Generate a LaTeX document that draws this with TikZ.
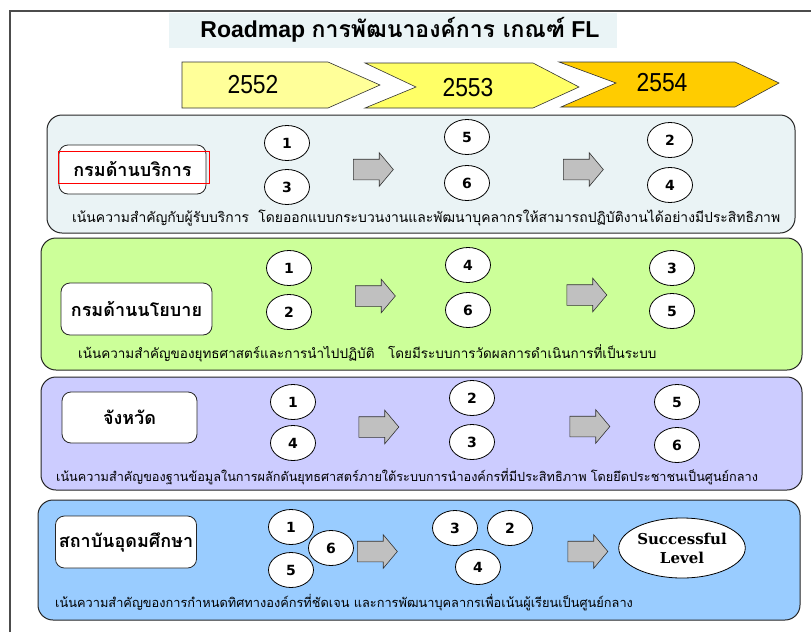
\documentclass[tikz,border=0pt]{standalone}
\usepackage{fontspec}
\setmainfont{Liberation Sans}
\newfontfamily\thaifont[Script=Thai]{Loma}
\newfontfamily\yearfont[FakeStretch=0.88]{Liberation Sans}
\newfontfamily\digitfont{DejaVu Sans}
\newfontfamily\slabfont{DejaVu Serif}
\usetikzlibrary{shapes.geometric,shapes.arrows}

\definecolor{titlebg}{HTML}{EAF4F6}
\definecolor{yearA}{HTML}{FFFF99}
\definecolor{yearB}{HTML}{FFFF66}
\definecolor{yearC}{HTML}{FFCC00}
\definecolor{rowA}{HTML}{EAF3F5}
\definecolor{rowB}{HTML}{CCFF99}
\definecolor{rowC}{HTML}{CCCCFF}
\definecolor{rowD}{HTML}{99CCFF}
\definecolor{stepgray}{HTML}{C0C0C0}

\tikzset{
	panel/.style={draw=black!85,line width=1pt,rounded corners=15pt},
	yearbox/.style={draw=black!80,line width=0.6pt},
	groupbox/.style={draw=black!85,fill=white,line width=0.8pt,rounded corners=9pt,font=\thaifont\bfseries\fontsize{18}{20}\selectfont},
	num/.style={ellipse,draw=black,fill=white,line width=0.8pt,minimum width=45pt,minimum height=35pt,inner sep=0pt,font=\digitfont\bfseries\fontsize{14}{16}\selectfont},
	stepArrow/.style={single arrow,draw=black!80,fill=stepgray,line width=0.6pt,minimum height=40pt,inner xsep=0pt,inner ysep=10pt,single arrow head extend=6.5pt,single arrow tip angle=100},
	note/.style={anchor=west,inner sep=0pt,font=\thaifont\fontsize{13}{15}\selectfont}
}

\begin{document}
\begin{tikzpicture}[x=1pt,y=-1pt]
\useasboundingbox (0,0) rectangle (811,632);
\draw[line width=1.5pt,black!70] (10,632) -- (10,11) -- (811,11);

% title
\node (title)[fill=titlebg,minimum width=448pt,minimum height=35pt,inner sep=0pt] at (393,30.5) {};
\node (titletext) at (400,30) {\fontsize{23}{26}\selectfont\bfseries Roadmap {\thaifont\bfseries การพัฒนาองค์การ เกณฑ์} FL};

% years
\draw[yearbox,fill=yearA] (182,62) -- (328,62) -- (380,85) -- (328,108) -- (182,108) -- cycle;
\draw[yearbox,fill=yearB] (365,63) -- (533,63) -- (579,87) -- (533,108) -- (365,108) -- (416,87) -- cycle;
\draw[yearbox,fill=yearC] (559,62) -- (735,62) -- (779,83) -- (735,107) -- (561,107) -- (616,83) -- cycle;
\node (y2552) at (253,85) {\yearfont\fontsize{26}{28}\selectfont 2552};
\node (y2553) at (468,88) {\yearfont\fontsize{26}{28}\selectfont 2553};
\node (y2554) at (662,83) {\yearfont\fontsize{26}{28}\selectfont 2554};

% row 1
\draw[panel,fill=rowA] (47,115) rectangle (795,233);
\node (g1)[groupbox,minimum width=147pt,minimum height=49pt] at (132.5,169.5) {กรมด้านบริการ};
\node (g1mark)[draw=red,line width=1pt,minimum width=151pt,minimum height=32pt,inner sep=0pt] at (133.5,167) {};
\node (r1a)[num] at (287,143) {1};
\node (r1b)[num] at (287,187) {3};
\node (r1s1)[stepArrow] at (369,169.5) {};
\node (r1c)[num] at (467,137) {5};
\node (r1d)[num] at (467,183) {6};
\node (r1s2)[stepArrow] at (579,169.5) {};
\node (r1e)[num] at (670,140) {2};
\node (r1f)[num] at (670,185) {4};
\node (n1)[note,font=\thaifont\fontsize{13.9}{15}\selectfont] at (72,218) {เน้นความสำคัญกับผู้รับบริการ \ โดยออกแบบกระบวนงานและพัฒนาบุคลากรให้สามารถปฏิบัติงานได้อย่างมีประสิทธิภาพ};

% row 2
\draw[panel,fill=rowB] (41,238) rectangle (802,370);
\node (g2)[groupbox,minimum width=151pt,minimum height=52pt] at (136.5,309) {กรมด้านนโยบาย};
\node (r2a)[num] at (289,268) {1};
\node (r2b)[num] at (289,312) {2};
\node (r2s1)[stepArrow] at (371,296) {};
\node (r2c)[num] at (468,265) {4};
\node (r2d)[num] at (468,310) {6};
\node (r2s2)[stepArrow] at (582.5,295) {};
\node (r2e)[num] at (672,268) {3};
\node (r2f)[num] at (672,311) {5};
\node (n2)[note,font=\thaifont\fontsize{13.5}{15}\selectfont] at (78,353) {เน้นความสำคัญของยุทธศาสตร์และการนำไปปฏิบัติ \ \ โดยมีระบบการวัดผลการดำเนินการที่เป็นระบบ};

% row 3
\draw[panel,fill=rowC] (41,377) rectangle (802,490);
\node (g3)[groupbox,minimum width=135pt,minimum height=51pt] at (129.5,417.5) {จังหวัด};
\node (r3a)[num] at (293,402) {1};
\node (r3b)[num] at (293,443) {4};
\node (r3s1)[stepArrow] at (374.5,427) {};
\node (r3c)[num] at (472,398) {2};
\node (r3d)[num] at (472,442) {3};
\node (r3s2)[stepArrow] at (585.5,426.5) {};
\node (r3e)[num] at (677,402) {5};
\node (r3f)[num] at (677,445) {6};
\node (n3)[note,font=\thaifont\fontsize{12.7}{15}\selectfont] at (56,477) {เน้นความสำคัญของฐานข้อมูลในการผลักดันยุทธศาสตร์ภายใต้ระบบการนำองค์กรที่มีประสิทธิภาพ โดยยึดประชาชนเป็นศูนย์กลาง};

% row 4
\draw[panel,fill=rowD] (38,500) rectangle (800,620);
\node (g4)[groupbox,minimum width=134pt,minimum height=52pt] at (126,542) {สถาบันอุดมศึกษา};
\node (r4a)[num] at (291,527) {1};
\node (r4b)[num] at (291,570) {5};
\node (r4c)[num] at (331,548) {6};
\node (r4s1)[stepArrow] at (373,551.5) {};
\node (r4d)[num] at (455,528) {3};
\node (r4e)[num] at (510,528) {2};
\node (r4f)[num] at (478,567) {4};
\node (r4s2)[stepArrow] at (583.5,551.5) {};
\node (goal)[ellipse,draw=black,fill=white,line width=0.8pt,minimum width=123pt,minimum height=60pt,inner sep=0pt,align=center,font=\slabfont\bfseries\fontsize{15}{19}\selectfont] at (682,548) {Successful\\Level};
\node (n4)[note,font=\thaifont\fontsize{12.8}{15}\selectfont] at (55,603) {เน้นความสำคัญของการกำหนดทิศทางองค์กรที่ชัดเจน และการพัฒนาบุคลากรเพื่อเน้นผู้เรียนเป็นศูนย์กลาง};
\end{tikzpicture}
\end{document}
